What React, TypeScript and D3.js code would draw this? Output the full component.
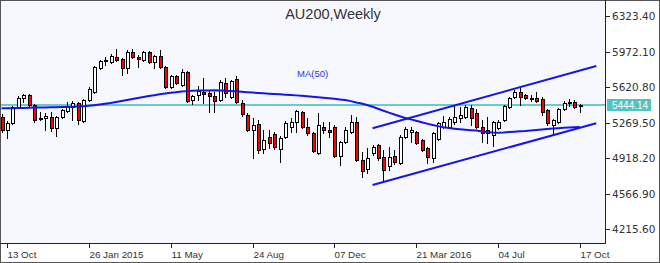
import React from "react";
import * as d3 from "d3";

const WIDTH = 660;
const HEIGHT = 263;
const PLOT_RIGHT = 605;
const PLOT_BOTTOM = 243;

const title = "AU200,Weekly";
const maLabel = "MA(50)";

// weekly candles, 6 Oct 2014 .. 17 Oct 2016
const opens = [
  5326, 5197, 5266, 5424, 5513, 5543, 5444, 5316, 5316, 5326,
  5217, 5326, 5385, 5424, 5464, 5286, 5494, 5573, 5810, 5879,
  5869, 5918, 5899, 5810, 5968, 5918, 5889, 5968, 5869, 5928,
  5820, 5622, 5731, 5642, 5770, 5494, 5543, 5573, 5563, 5533,
  5494, 5662, 5523, 5701, 5464, 5345, 5197, 5256, 5009, 5128,
  5158, 5009, 5128, 5227, 5276, 5375, 5227, 5167, 4970, 5227,
  5197, 5227, 4940, 5079, 5177, 5276, 4901, 4812, 4970, 5049,
  4930, 4841, 4940, 4871, 5128, 5177, 5177, 5098, 5019, 4920,
  5108, 5227, 5227, 5276, 5316, 5326, 5414, 5365, 5227, 5167,
  5148, 5217, 5296, 5424, 5523, 5573, 5543, 5513, 5513, 5503,
  5395, 5247, 5276, 5405, 5464, 5474, 5434,
];
const highs = [
  5355, 5286, 5434, 5533, 5553, 5553, 5454, 5375, 5365, 5375,
  5335, 5405, 5474, 5484, 5474, 5503, 5622, 5829, 5889, 5918,
  5948, 5997, 5909, 5988, 5997, 5938, 5978, 5978, 5938, 5988,
  5829, 5741, 5741, 5800, 5780, 5543, 5632, 5711, 5592, 5573,
  5691, 5711, 5691, 5731, 5494, 5365, 5316, 5296, 5197, 5197,
  5177, 5138, 5286, 5316, 5395, 5385, 5316, 5177, 5365, 5276,
  5276, 5247, 5088, 5227, 5345, 5326, 4980, 5019, 5049, 5059,
  5000, 5029, 5000, 5148, 5227, 5227, 5187, 5108, 5029, 5177,
  5276, 5335, 5326, 5434, 5424, 5444, 5444, 5405, 5296, 5326,
  5286, 5296, 5444, 5523, 5592, 5622, 5553, 5543, 5573, 5523,
  5405, 5306, 5414, 5484, 5503, 5494, 5454,
];
const lows = [
  5177, 5118, 5256, 5414, 5474, 5434, 5276, 5296, 5197, 5187,
  5138, 5316, 5375, 5296, 5256, 5276, 5484, 5563, 5800, 5839,
  5859, 5879, 5741, 5760, 5909, 5820, 5879, 5859, 5810, 5810,
  5612, 5612, 5652, 5632, 5474, 5454, 5494, 5464, 5375, 5375,
  5484, 5523, 5513, 5464, 5335, 5187, 4920, 4970, 4970, 5019,
  5009, 4881, 5118, 5177, 5177, 5217, 5148, 4980, 4960, 5167,
  5128, 4930, 4851, 5069, 5167, 4891, 4733, 4772, 4950, 4901,
  4683, 4802, 4861, 4861, 5118, 5079, 5059, 4990, 4871, 4881,
  5098, 5217, 5217, 5256, 5276, 5316, 5247, 5217, 5079, 5069,
  5039, 5207, 5286, 5414, 5513, 5444, 5503, 5484, 5474, 5345,
  5247, 5167, 5266, 5395, 5434, 5414, 5375,
];
const closes = [
  5197, 5266, 5424, 5513, 5543, 5444, 5296, 5306, 5335, 5217,
  5326, 5395, 5434, 5464, 5296, 5494, 5602, 5820, 5879, 5889,
  5928, 5889, 5810, 5968, 5918, 5899, 5968, 5869, 5928, 5820,
  5622, 5731, 5662, 5770, 5484, 5533, 5582, 5553, 5533, 5484,
  5671, 5563, 5681, 5474, 5355, 5197, 5247, 5000, 5098, 5069,
  5029, 5118, 5266, 5276, 5385, 5227, 5167, 4990, 5247, 5197,
  5177, 4940, 5079, 5197, 5276, 4901, 4792, 4920, 5029, 4920,
  4802, 4930, 4881, 5128, 5207, 5197, 5069, 5000, 4930, 5167,
  5266, 5276, 5306, 5326, 5345, 5424, 5316, 5227, 5167, 5197,
  5276, 5276, 5434, 5513, 5573, 5523, 5513, 5503, 5484, 5375,
  5266, 5296, 5405, 5464, 5474, 5424, 5444.14,
];
const ma50 = [
  5412, 5412, 5413, 5414, 5415, 5416, 5418, 5419, 5420, 5421,
  5422, 5423, 5424, 5426, 5428, 5432, 5436, 5442, 5449, 5456,
  5464, 5474, 5484, 5494, 5503, 5513, 5523, 5533, 5541, 5550,
  5558, 5566, 5571, 5577, 5581, 5584, 5586, 5587, 5588, 5589,
  5588, 5585, 5582, 5579, 5575, 5571, 5567, 5563, 5559, 5555,
  5552, 5549, 5546, 5543, 5539, 5535, 5530, 5525, 5521, 5516,
  5511, 5505, 5499, 5494, 5482, 5469, 5459, 5444, 5426, 5407,
  5387, 5368, 5350, 5333, 5316, 5302, 5288, 5274, 5260, 5247,
  5235, 5225, 5217, 5210, 5204, 5199, 5195, 5191, 5182, 5178,
  5173, 5170, 5172, 5176, 5180, 5184, 5187, 5192, 5197, 5202,
  5207, 5211, 5215, 5218, 5221, 5224, 5227,
];

const yTicks = [4215.6, 4566.9, 4918.2, 5269.5, 5620.8, 5972.1, 6323.4];
const xTickIndex = [1, 16, 31, 46, 61, 76, 91, 106];
const xTickLabels = ["13 Oct", "26 Jan 2015", "11 May", "24 Aug", "07 Dec", "21 Mar 2016", "04 Jul", "17 Oct"];
const lastPrice = 5444.14;

// channel lines: [candle index, price]
const upperChannel: [number, number][] = [[68, 5214], [109, 5829]];
const lowerChannel: [number, number][] = [[68, 4654], [109, 5263]];

const X_DOMAIN = [-0.275, 110.6];
const Y_DOMAIN = [4080.2, 6481.5];

const BLUE = "#1515e8";
const CYAN = "#66cccc";
const TEXT = "#333333";

export default function App() {
  const x = d3.scaleLinear().domain(X_DOMAIN).range([0, PLOT_RIGHT]);
  const y = d3.scaleLinear().domain(Y_DOMAIN).range([PLOT_BOTTOM, 0]);

  const maPath = d3.line<number>().x((_, i) => x(i)).y((d) => y(d))(ma50) || "";
  const chan = d3.line<[number, number]>().x((d) => x(d[0])).y((d) => y(d[1]));
  const lastY = Math.round(y(lastPrice));

  const candles = opens.map((o, i) => {
    const c = closes[i];
    const cx = Math.round(x(i));
    const wx = cx + 0.5;
    const top = Math.round(y(Math.max(o, c))) + 0.5;
    const bot = Math.round(y(Math.min(o, c))) + 0.5;
    const hi = Math.round(y(highs[i]));
    const lo = Math.round(y(lows[i])) + 1;
    const bull = c >= o;
    return (
      <g key={i}>
        <line x1={wx} x2={wx} y1={hi} y2={lo} stroke="#000" strokeWidth={1} />
        {bot - top < 1 ? (
          <line x1={cx - 1} x2={cx + 3} y1={top} y2={top} stroke="#000" strokeWidth={1} />
        ) : (
          <rect x={cx - 0.5} y={top} width={3} height={bot - top} fill={bull ? "#ffffff" : "#ff0000"} stroke="#000" strokeWidth={1} />
        )}
      </g>
    );
  });

  return (
    <svg width={WIDTH} height={HEIGHT} style={{ position: "fixed", left: 0, top: 0, background: "#fff" }}>
      <rect x={0} y={0} width={WIDTH} height={HEIGHT} fill="#ffffff" />
      <rect x={0} y={0} width={PLOT_RIGHT} height={PLOT_BOTTOM} fill="#f7f8fe" />

      <text x={333} y={19} textAnchor="middle" fontFamily="Liberation Sans, Arial, sans-serif" fontSize={14.5} fill={TEXT}>
        {title}
      </text>
      <text x={297} y={77} fontFamily="Liberation Sans, Arial, sans-serif" fontSize={9.5} fill="#2b2bff">
        {maLabel}
      </text>

      <line x1={0} x2={PLOT_RIGHT} y1={lastY} y2={lastY} stroke={CYAN} strokeWidth={2} />

      <g shapeRendering="crispEdges">{candles}</g>

      <path d={maPath} fill="none" stroke={BLUE} strokeWidth={2} />
      <path d={chan(upperChannel) || ""} fill="none" stroke={BLUE} strokeWidth={2} />
      <path d={chan(lowerChannel) || ""} fill="none" stroke={BLUE} strokeWidth={2} />

      {/* frame */}
      <g shapeRendering="crispEdges">
        <rect x={0.5} y={0.5} width={WIDTH - 1} height={HEIGHT - 1} fill="none" stroke="#555" />
        <line x1={PLOT_RIGHT + 0.5} x2={PLOT_RIGHT + 0.5} y1={0} y2={PLOT_BOTTOM + 1} stroke="#222" />
        <line x1={0} x2={PLOT_RIGHT + 1} y1={PLOT_BOTTOM + 0.5} y2={PLOT_BOTTOM + 0.5} stroke="#222" />
      </g>

      {/* y axis */}
      {yTicks.map((t) => {
        const ty = Math.round(y(t)) + 0.5;
        return (
          <g key={t}>
            <line x1={PLOT_RIGHT} x2={PLOT_RIGHT + 5} y1={ty} y2={ty} stroke="#222" shapeRendering="crispEdges" />
            <text x={612} y={ty + 3.8} fontFamily="DejaVu Sans, sans-serif" fontSize={10.5} fill={TEXT}>
              {t.toFixed(2)}
            </text>
          </g>
        );
      })}

      {/* last price label */}
      <rect x={607} y={lastY - 6} width={44} height={12} fill="#4fc4c0" />
      <text x={612} y={lastY + 3.6} fontFamily="Liberation Sans, Arial, sans-serif" fontSize={10} fill="#ffffff">
        {lastPrice.toFixed(2)}
      </text>

      {/* x axis */}
      {xTickIndex.map((idx, k) => {
        const tx = Math.round(x(idx)) + 0.5;
        return (
          <g key={idx}>
            <line x1={tx} x2={tx} y1={PLOT_BOTTOM} y2={PLOT_BOTTOM + 5} stroke="#222" shapeRendering="crispEdges" />
            <text x={tx} y={258} fontFamily="Liberation Sans, Arial, sans-serif" fontSize={9.8} fill={TEXT}>
              {xTickLabels[k]}
            </text>
          </g>
        );
      })}
    </svg>
  );
}
